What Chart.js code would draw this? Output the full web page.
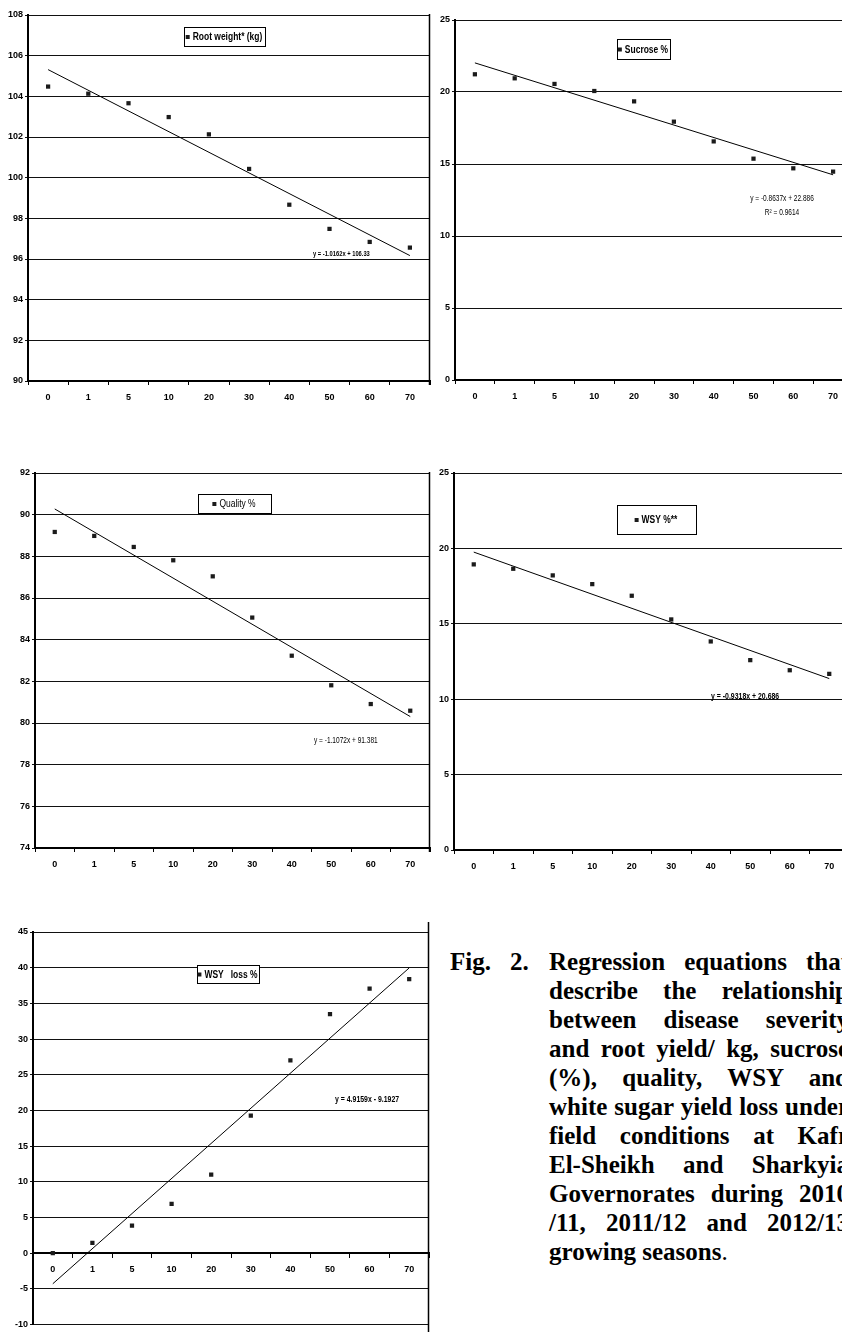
<!DOCTYPE html>
<html>
<head>
<meta charset="utf-8">
<script src="https://cdn.jsdelivr.net/npm/chart.js@4.4.1/dist/chart.umd.min.js"></script>
<style>
html, body { margin: 0; padding: 0; background: #fff; }
#page { position: relative; width: 842px; height: 1332px; overflow: hidden; }
canvas { position: absolute; }
.cap { position: absolute; font-family: 'Liberation Serif', 'Times New Roman', serif; font-weight: bold; font-size: 25px; line-height: 29px; color: #000; white-space: nowrap; }
.col div { white-space: normal; }
.j { text-align: justify; text-align-last: justify; }
</style>
</head>
<body>
<div id="page">
  <canvas id="rootChart"></canvas>
  <canvas id="sucroseChart"></canvas>
  <canvas id="qualityChart"></canvas>
  <canvas id="wsyChart"></canvas>
  <canvas id="lossChart"></canvas>

  <div class="cap" style="left:450px;top:947px">Fig.</div>
  <div class="cap" style="left:510px;top:947px">2.</div>
  <div class="cap col" style="left:549px;top:947px;width:300px">
    <div class="j">Regression equations that</div>
    <div class="j">describe the relationship</div>
    <div class="j">between disease severity</div>
    <div class="j">and root yield/ kg, sucrose</div>
    <div class="j">(%), quality, WSY and</div>
    <div class="j">white sugar yield loss under</div>
    <div class="j">field conditions at Kafr</div>
    <div class="j">El-Sheikh and Sharkyia</div>
    <div class="j">Governorates during 2010</div>
    <div class="j">/11, 2011/12 and 2012/13</div>
    <div>growing seasons<span style="font-weight:normal">.</span></div>
  </div>
</div>

<script>
// disease severity categories
const severity = ['0', '1', '5', '10', '20', '30', '40', '50', '60', '70'];

const rootWeight = [104.48, 104.13, 103.66, 102.98, 102.13, 100.43, 98.67, 97.48, 96.84, 96.56];
const sucrose    = [21.23, 20.95, 20.56, 20.07, 19.35, 17.94, 16.57, 15.37, 14.70, 14.47];
const quality    = [89.17, 88.98, 88.45, 87.81, 87.04, 85.06, 83.23, 81.81, 80.91, 80.59];
const wsy        = [18.94, 18.65, 18.21, 17.63, 16.86, 15.29, 13.83, 12.59, 11.92, 11.68];
const wsyLoss    = [0.0, 1.45, 3.87, 6.90, 11.0, 19.26, 27.0, 33.5, 37.08, 38.39];

// trend equations as printed on the charts: [slope, intercept], x = 1..10
const rootTrend    = [-1.0162, 106.33];
const sucroseTrend = [-0.8637, 22.886];
const qualityTrend = [-1.1072, 91.381];
const wsyTrend     = [-0.9318, 20.686];
const lossTrend    = [4.9159, -9.1927];

// y axis ranges [min, max, step]
const rootTicks    = [90, 108, 2];
const sucroseTicks = [0, 25, 5];
const qualityTicks = [74, 92, 2];
const wsyTicks     = [0, 25, 5];
const lossTicks    = [-10, 45, 5];

const SANS = "'Liberation Sans', Arial, sans-serif";
const SQUEEZE = 0.77;   // fake the narrow face of the original

// straight line between first and last category, from the equation
function trendLine(t) {
    const out = severity.map(() => null);
    out[0] = t[0] * 1 + t[1];
    out[severity.length - 1] = t[0] * severity.length + t[1];
    return out;
}

function narrowText(ctx, text, x, y, align) {
    const w = ctx.measureText(text).width * SQUEEZE;
    let left = x;
    if (align === 'center') left = x - w / 2;
    if (align === 'right') left = x - w;
    ctx.save();
    ctx.translate(left, y);
    ctx.scale(SQUEEZE, 1);
    ctx.textAlign = 'left';
    ctx.fillText(text, 0, 0);
    ctx.restore();
    return w;
}

const decorPlugin = {
    id: 'decor',
    afterDraw(chart, args, opts) {
        const ctx = chart.ctx;
        const a = chart.chartArea;
        ctx.save();

        // right edge of plot area
        if (opts.rightBorder) {
            ctx.strokeStyle = '#000';
            ctx.lineWidth = 1.5;
            ctx.beginPath();
            ctx.moveTo(a.right - 0.5, opts.rightBorder[0]);
            ctx.lineTo(a.right - 0.5, opts.rightBorder[1]);
            ctx.stroke();
        }

        // legend box
        const L = opts.legend;
        ctx.fillStyle = '#fff';
        ctx.fillRect(L.x, L.y, L.w, L.h);
        ctx.strokeStyle = '#000';
        ctx.lineWidth = 1;
        ctx.strokeRect(L.x + 0.5, L.y + 0.5, L.w, L.h);
        ctx.font = (L.bold ? 'bold ' : '') + '11px ' + SANS;
        ctx.textBaseline = 'middle';
        const label = chart.data.datasets[0].label;
        const tw = ctx.measureText(label).width * SQUEEZE;
        const sx = L.x + (L.w - (tw + 8)) / 2;
        const cy = L.y + L.h / 2 + 0.5;
        ctx.fillStyle = '#1b1b1b';
        ctx.fillRect(sx, cy - 2, 4, 4);
        ctx.fillStyle = '#000';
        narrowText(ctx, label, sx + 7, cy, 'left');

        // equation notes
        ctx.textBaseline = 'middle';
        (opts.notes || []).forEach(n => {
            ctx.font = (n.bold ? 'bold ' : '') + n.size + 'px ' + SANS;
            ctx.fillStyle = '#000';
            narrowText(ctx, n.text, n.x, n.y, n.align || 'left');
        });
        ctx.restore();
    }
};

function regressionChart(id, box, label, values, trend, ticks, deco) {
    const canvas = document.getElementById(id);
    canvas.style.left = box.left + 'px';
    canvas.style.top = box.top + 'px';
    canvas.width = box.width;
    canvas.height = box.height;

    return new Chart(canvas.getContext('2d'), {
        type: 'line',
        data: {
            labels: severity,
            datasets: [{
                label: label,
                data: values,
                showLine: false,
                pointStyle: 'rect',
                pointRadius: 3,
                pointBorderWidth: 0,
                pointBackgroundColor: '#1b1b1b',
                order: 0
            }, {
                label: 'trend',
                data: trendLine(trend),
                spanGaps: true,
                borderColor: '#000',
                borderWidth: 1,
                pointRadius: 0,
                order: 1
            }]
        },
        options: {
            responsive: false,
            animation: false,
            devicePixelRatio: 1,
            layout: {
                padding: { top: box.padTop, right: 2, bottom: box.padBottom || 0, left: 0 }
            },
            plugins: {
                legend: { display: false },
                tooltip: { enabled: false },
                decor: deco
            },
            scales: {
                x: {
                    type: 'category',
                    offset: true,
                    position: box.xAtZero ? { y: 0 } : 'bottom',
                    grid: {
                        offset: true,
                        drawOnChartArea: false,
                        drawTicks: true,
                        tickLength: 4,
                        color: '#000',
                        lineWidth: 1
                    },
                    border: { display: true, color: '#000', width: 2 },
                    ticks: {
                        font: { family: SANS, size: 9, weight: 'bold' },
                        color: '#000',
                        padding: 7,
                        maxRotation: 0,
                        autoSkip: false
                    },
                    afterFit: s => { s.height = box.xHeight; }
                },
                y: {
                    min: ticks[0],
                    max: ticks[1],
                    grid: { color: '#111', lineWidth: 1, tickLength: 3 },
                    border: { display: true, color: '#000', width: 2 },
                    ticks: {
                        stepSize: ticks[2],
                        font: { family: SANS, size: 9, weight: 'bold' },
                        color: '#000',
                        padding: 2
                    },
                    afterFit: s => { s.width = box.yWidth; }
                }
            }
        },
        plugins: [decorPlugin]
    });
}

document.addEventListener("DOMContentLoaded", function() {

    regressionChart('rootChart',
        { left: 0, top: 0, width: 434, height: 411, yWidth: 28, padTop: 15, xHeight: 30 },
        'Root weight* (kg)', rootWeight, rootTrend, rootTicks,
        {
            rightBorder: [14, 385],
            legend: { x: 184, y: 27, w: 81, h: 19, bold: true },
            notes: [{ text: 'y = -1.0162x + 106.33', x: 313, y: 254, size: 7.5, bold: true }]
        });

    regressionChart('sucroseChart',
        { left: 420, top: 0, width: 437, height: 410, yWidth: 35, padTop: 20, xHeight: 30 },
        'Sucrose %', sucrose, sucroseTrend, sucroseTicks,
        {
            legend: { x: 197, y: 39, w: 53, h: 20, bold: true },
            notes: [
                { text: 'y = -0.8637x + 22.886', x: 362, y: 199, size: 8.5, align: 'center' },
                { text: 'R\u00b2 = 0.9614', x: 362, y: 213, size: 8.5, align: 'center' }
            ]
        });

    regressionChart('qualityChart',
        { left: 0, top: 460, width: 434, height: 418, yWidth: 35, padTop: 13, xHeight: 30 },
        'Quality %', quality, qualityTrend, qualityTicks,
        {
            rightBorder: [12, 392],
            legend: { x: 198, y: 34, w: 73, h: 19, bold: false },
            notes: [{ text: 'y = -1.1072x + 91.381', x: 314, y: 281, size: 8.5 }]
        });

    regressionChart('wsyChart',
        { left: 420, top: 460, width: 433, height: 420, yWidth: 34, padTop: 13, xHeight: 30 },
        'WSY %**', wsy, wsyTrend, wsyTicks,
        {
            legend: { x: 197, y: 45, w: 79, h: 29, bold: true },
            notes: [{ text: 'y = -0.9318x + 20.686', x: 291, y: 237, size: 9, bold: true }]
        });

    regressionChart('lossChart',
        { left: 0, top: 915, width: 433, height: 417, yWidth: 33, padTop: 17, padBottom: 7, xHeight: 0, xAtZero: true },
        'WSY   loss %', wsyLoss, lossTrend, lossTicks,
        {
            rightBorder: [7, 417],
            legend: { x: 197, y: 50, w: 62, h: 18, bold: true },
            notes: [{ text: 'y = 4.9159x - 9.1927', x: 335, y: 185, size: 9, bold: true }]
        });

});
</script>
</body>
</html>
